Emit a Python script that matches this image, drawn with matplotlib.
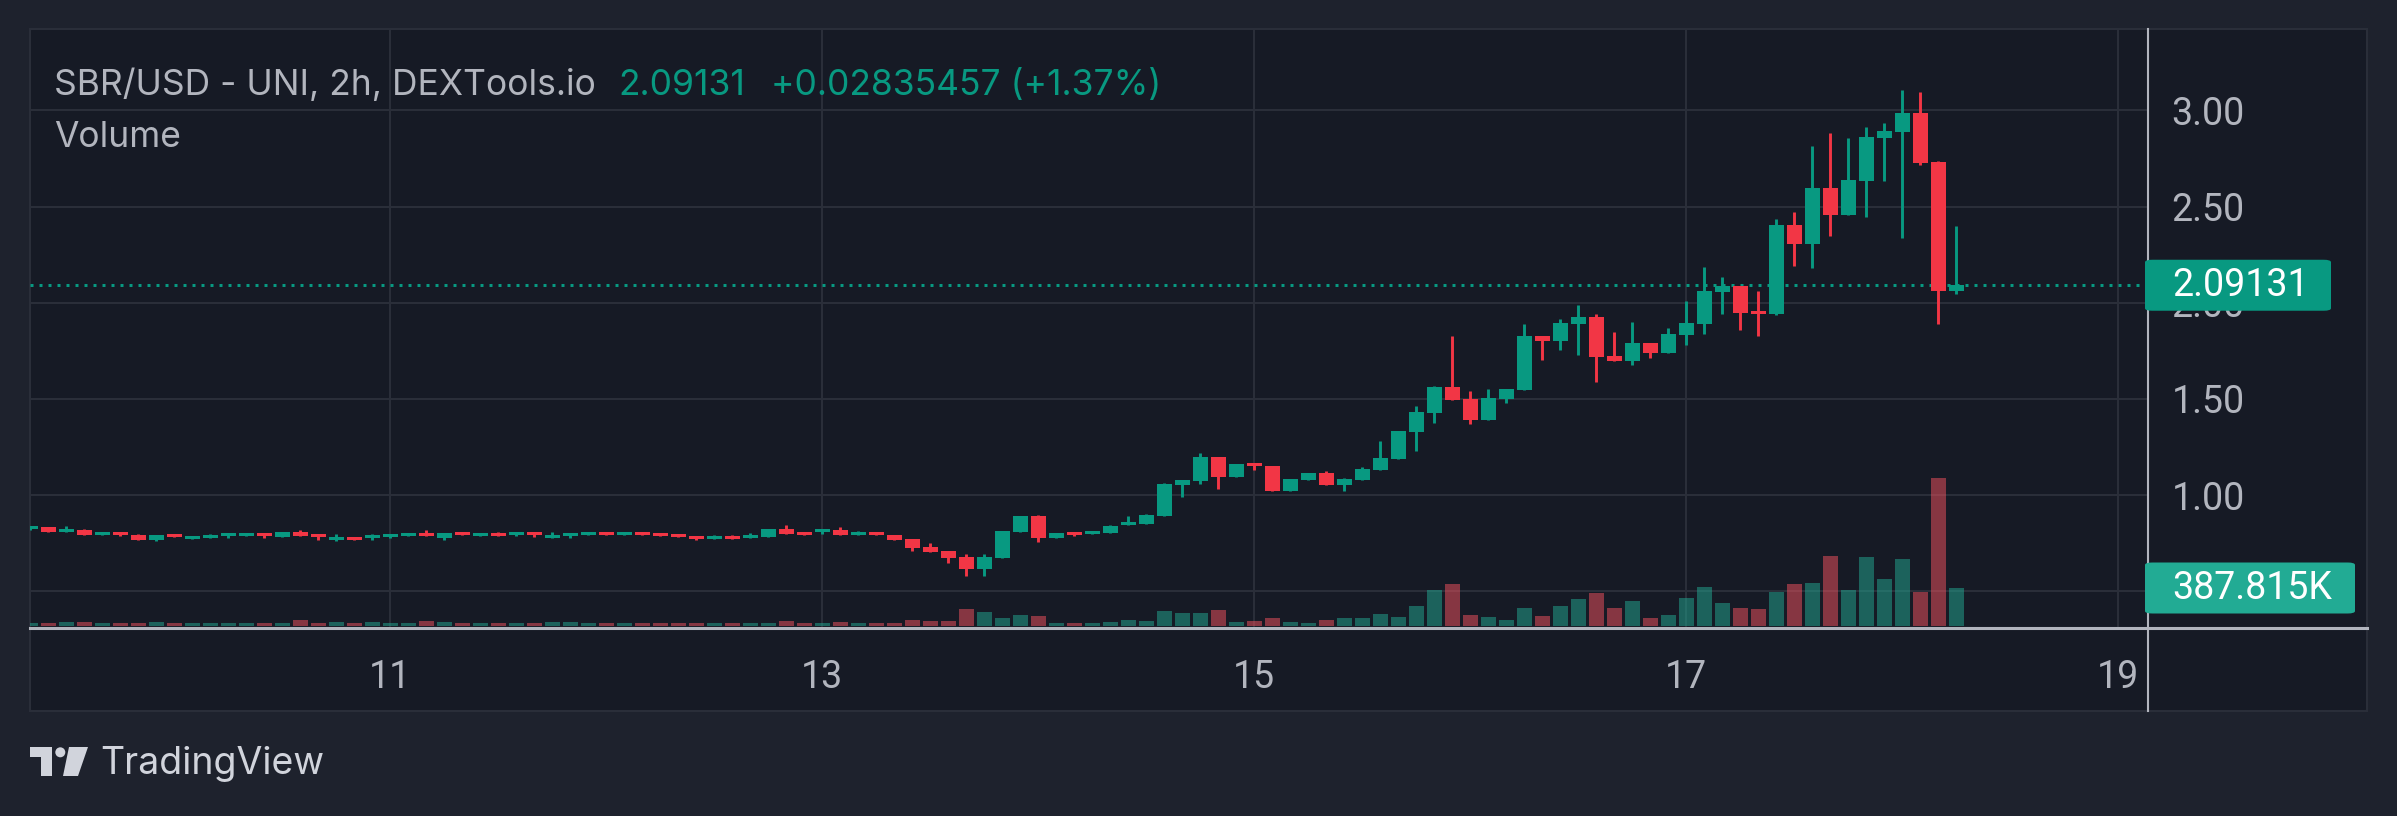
import matplotlib
matplotlib.use("Agg")
import matplotlib.pyplot as plt
from matplotlib.patches import Rectangle, FancyBboxPatch, Polygon, Circle
from matplotlib.lines import Line2D
import pandas as pd

# canvas size in pixels (dpi 100)
W, H = 2397, 816

BG = "#1e222d"
PANEL = "#161a25"
GRID = "#2a2e39"
TEXT = "#b2b5be"
UP = "#089981"
DOWN = "#f23645"
VOL_UP = "#22ab94"
VOL_DOWN = "#f7525f"

# 2h candles, SBR/USD
times = pd.date_range("2025-01-09 08:00", periods=108, freq="2h")

opens = [
    0.8237, 0.8341, 0.8081, 0.8185, 0.7925, 0.8081, 0.7925, 0.7665, 0.7977, 0.7717,
    0.7769, 0.7873, 0.7873, 0.8029, 0.7821, 0.8081, 0.7977, 0.7665, 0.7821, 0.7769,
    0.7821, 0.7873, 0.8029, 0.7769, 0.8081, 0.7873, 0.8029, 0.7925, 0.8081, 0.7769,
    0.7873, 0.7925, 0.8081, 0.7925, 0.8081, 0.8029, 0.7977, 0.7873, 0.7717, 0.7873,
    0.7769, 0.7821, 0.8237, 0.8081, 0.8081, 0.8185, 0.7925, 0.8081, 0.7925, 0.7717,
    0.7301, 0.7093, 0.6781, 0.6157, 0.6729, 0.8081, 0.8913, 0.7769, 0.8081, 0.7977,
    0.8029, 0.8445, 0.8497, 0.8913, 1.0525, 1.0733, 1.1981, 1.0941, 1.1669, 1.1513,
    1.0213, 1.0785, 1.1149, 1.0525, 1.0785, 1.1305, 1.1877, 1.3281, 1.4269, 1.5621,
    1.4997, 1.3905, 1.4997, 1.5465, 1.8273, 1.8013, 1.8897, 1.9261, 1.7233, 1.6973,
    1.7909, 1.7389, 1.8325, 1.8897, 2.0561, 2.0873, 1.9573, 1.9417, 2.4046, 2.3058,
    2.5970, 2.4566, 2.6334, 2.8570, 2.8882, 2.9870, 2.7322, 2.0630,
]
highs = [
    0.8393, 0.8341, 0.8393, 0.8237, 0.8081, 0.8081, 0.7977, 0.7925, 0.7977, 0.7873,
    0.7977, 0.8029, 0.8029, 0.8029, 0.8081, 0.8185, 0.7977, 0.7977, 0.7821, 0.7977,
    0.7977, 0.8029, 0.8185, 0.8029, 0.8081, 0.8029, 0.8081, 0.8081, 0.8081, 0.8081,
    0.8029, 0.8081, 0.8081, 0.8081, 0.8081, 0.8029, 0.7977, 0.7873, 0.7925, 0.7925,
    0.8029, 0.8237, 0.8445, 0.8081, 0.8237, 0.8341, 0.8133, 0.8081, 0.7925, 0.7717,
    0.7509, 0.7093, 0.6937, 0.6937, 0.8133, 0.8913, 0.8965, 0.8029, 0.8081, 0.8133,
    0.8445, 0.8913, 0.9017, 1.0629, 1.0785, 1.2189, 1.1981, 1.1617, 1.1669, 1.1513,
    1.0837, 1.1149, 1.1253, 1.0889, 1.1461, 1.2813, 1.3333, 1.4633, 1.5673, 1.8273,
    1.5413, 1.5517, 1.5517, 1.8897, 1.8273, 1.9157, 1.9885, 1.9417, 1.8481, 1.8999,
    1.7909, 1.8689, 2.0093, 2.1861, 2.1341, 2.0873, 2.0613, 2.4358, 2.4722, 2.8154,
    2.8830, 2.8570, 2.9142, 2.9350, 3.1066, 3.0962, 2.7374, 2.4000,
]
lows = [
    0.8185, 0.8081, 0.8081, 0.7925, 0.7925, 0.7873, 0.7665, 0.7613, 0.7821, 0.7717,
    0.7769, 0.7769, 0.7873, 0.7769, 0.7821, 0.7873, 0.7665, 0.7613, 0.7665, 0.7665,
    0.7769, 0.7873, 0.7873, 0.7665, 0.7925, 0.7873, 0.7873, 0.7873, 0.7821, 0.7769,
    0.7769, 0.7925, 0.7925, 0.7925, 0.7925, 0.7873, 0.7821, 0.7665, 0.7717, 0.7717,
    0.7769, 0.7821, 0.7977, 0.7925, 0.7977, 0.7925, 0.7925, 0.7925, 0.7665, 0.7093,
    0.7041, 0.6469, 0.5793, 0.5793, 0.6729, 0.8081, 0.7561, 0.7769, 0.7873, 0.7977,
    0.8029, 0.8445, 0.8497, 0.8913, 0.9901, 1.0577, 1.0317, 1.0941, 1.1305, 1.0213,
    1.0213, 1.0785, 1.0525, 1.0213, 1.0785, 1.1305, 1.1877, 1.2293, 1.3749, 1.4945,
    1.3697, 1.3905, 1.4789, 1.5465, 1.7025, 1.7545, 1.7285, 1.5881, 1.6973, 1.6765,
    1.7129, 1.7389, 1.7805, 1.8377, 1.9417, 1.8585, 1.8273, 1.9365, 2.1913, 2.1809,
    2.3474, 2.4566, 2.4462, 2.6334, 2.3370, 2.7166, 1.8897, 2.0457,
]
closes = [
    0.8393, 0.8081, 0.8237, 0.7925, 0.8081, 0.7925, 0.7665, 0.7925, 0.7821, 0.7873,
    0.7925, 0.8029, 0.8029, 0.7873, 0.8081, 0.7873, 0.7821, 0.7821, 0.7665, 0.7925,
    0.7977, 0.8029, 0.7873, 0.8029, 0.7925, 0.8029, 0.7873, 0.8081, 0.7925, 0.7925,
    0.8029, 0.8081, 0.7925, 0.8081, 0.7925, 0.7873, 0.7821, 0.7717, 0.7873, 0.7717,
    0.7925, 0.8237, 0.7977, 0.7925, 0.8237, 0.7925, 0.8081, 0.7925, 0.7665, 0.7249,
    0.7041, 0.6729, 0.6157, 0.6781, 0.8133, 0.8913, 0.7769, 0.8029, 0.7925, 0.8133,
    0.8393, 0.8601, 0.8965, 1.0577, 1.0785, 1.1981, 1.0941, 1.1617, 1.1513, 1.0213,
    1.0837, 1.1149, 1.0525, 1.0837, 1.1357, 1.1929, 1.3333, 1.4321, 1.5621, 1.4945,
    1.3905, 1.5049, 1.5517, 1.8273, 1.8013, 1.8949, 1.9261, 1.7181, 1.6973, 1.7909,
    1.7389, 1.8377, 1.8949, 2.0613, 2.0873, 1.9469, 1.9417, 2.4046, 2.3058, 2.5970,
    2.4566, 2.6386, 2.8622, 2.8934, 2.9870, 2.7270, 2.0630, 2.09131,
]
# volume in thousands
volumes = [
    31, 31, 41, 41, 31, 31, 31, 41, 31, 31, 31, 31, 31, 31, 31, 61, 31, 41, 31, 41,
    31, 31, 51, 41, 31, 31, 31, 31, 31, 41, 41, 31, 31, 31, 31, 31, 31, 31, 31, 31,
    31, 31, 51, 31,
    31, 41, 31, 31, 31, 61, 51, 51, 173, 143, 82, 112, 102, 31, 31, 31, 41, 61, 51,
    153, 133, 133, 163,
    41, 51, 82, 41, 31, 61, 82, 82, 122, 92, 204, 367, 429, 112, 92, 61, 184, 102,
    204, 276, 337, 184,
    255, 82, 112, 286, 398, 235, 184, 173, 347, 429, 439, 714, 367, 704, 480, 684,
    347, 1510, 387.815,
]

day_ticks = [11, 13, 15, 17, 19]
price_ticks = [0.5, 1.0, 1.5, 2.0, 2.5, 3.0]
# the 0.50 label sits under the volume tag, so it is left blank
price_labels = ["", "1.00", "1.50", "2.00", "2.50", "3.00"]
title_pair = "SBR/USD - UNI, 2h, DEXTools.io"
change_text = "+0.02835457 (+1.37%)"


def fx(px):
    return px / W


def fy(py):
    # py measured from the top of the picture
    return 1 - py / H


plt.rcParams['font.family'] = ['Roboto', 'DejaVu Sans']
LEGEND_FONT = ['Inter', 'DejaVu Sans']
LEGEND_SIZE = 25.5

fig = plt.figure(figsize=(W / 100, H / 100), dpi=100, facecolor=BG)

# chart panel
fig.add_artist(Rectangle((fx(30), fy(711)), fx(2367) - fx(30), fy(29) - fy(711),
                         transform=fig.transFigure, facecolor=PANEL,
                         edgecolor=GRID, lw=1.5, zorder=-5))

ax = fig.add_axes([fx(30), fy(628), fx(2148) - fx(30), fy(29) - fy(628)])
ax.set_facecolor("none")

x = [t.day + t.hour / 24 for t in times]
body_w = 15 / 216
up = [c >= o for o, c in zip(opens, closes)]
cols = [UP if u else DOWN for u in up]

ax.vlines(x, lows, highs, colors=cols, lw=2.1, zorder=2)
bottoms = [min(o, c) for o, c in zip(opens, closes)]
heights = [max(abs(c - o), 0.004) for o, c in zip(opens, closes)]
ax.bar(x, heights, bottom=bottoms, width=body_w, color=cols, zorder=3, lw=0)

ax.axhline(closes[-1], color=UP, lw=2.16, ls=(0, (1, 2)), zorder=1)

ax.set_xlim(9.3319, 19.1375)
ax.set_ylim(0.3089, 3.4238)
ax.set_xticks(day_ticks)
ax.set_xticklabels([str(d) for d in day_ticks])
ax.set_yticks(price_ticks)
ax.set_yticklabels(price_labels)
ax.grid(True, color=GRID, lw=1.5)
ax.set_axisbelow(True)
for s in ax.spines.values():
    s.set_visible(False)

# volume pane on a twin axis
ax2 = ax.twinx()
vcols = [VOL_UP if u else VOL_DOWN for u in up]
ax2.bar(x, volumes, width=body_w, color=vcols, alpha=0.5, lw=0)
ax2.set_ylim(-20.4, 6093)
ax2.set_axis_off()

ax.yaxis.tick_right()
ax.tick_params(axis='both', length=0, colors=TEXT, labelsize=27)
ax.tick_params(axis='y', pad=17)
ax.tick_params(axis='x', pad=22)

# axis lines
fig.add_artist(Line2D([fx(30), fx(2367)], [fy(628), fy(628)], transform=fig.transFigure,
                      color=TEXT, lw=2.2, zorder=2))
fig.add_artist(Line2D([fx(2148), fx(2148)], [fy(29), fy(711)], transform=fig.transFigure,
                      color=TEXT, lw=1.5, zorder=2))

# last price / last volume tags
inv = fig.transFigure.inverted()
yp = inv.transform(ax.transData.transform((x[-1], closes[-1])))[1]
yv = inv.transform(ax2.transData.transform((x[-1], volumes[-1])))[1]
th = 51 / H
fig.add_artist(FancyBboxPatch((fx(2145), yp - th / 2), fx(2331) - fx(2145), th,
                              boxstyle="round,pad=0,rounding_size=0.003",
                              transform=fig.transFigure, facecolor=UP, lw=0, zorder=3))
fig.text(fx(2172), yp, f"{closes[-1]:.5f}", color="white", fontsize=27,
         va="center", ha="left", zorder=4)
fig.add_artist(FancyBboxPatch((fx(2145), yv - th / 2), fx(2355) - fx(2145), th,
                              boxstyle="round,pad=0,rounding_size=0.003",
                              transform=fig.transFigure, facecolor=VOL_UP, lw=0, zorder=3))
fig.text(fx(2172), yv, f"{volumes[-1]:.3f}K", color="white", fontsize=27,
         va="center", ha="left", zorder=4)

# legend texts
fig.text(fx(54), fy(95), title_pair, color=TEXT, fontsize=LEGEND_SIZE, va="baseline",
         family=LEGEND_FONT)
fig.text(fx(618), fy(95), f"{closes[-1]:.5f}", color=UP, fontsize=LEGEND_SIZE,
         va="baseline", family=LEGEND_FONT)
fig.text(fx(771), fy(95), change_text, color=UP, fontsize=LEGEND_SIZE, va="baseline",
         family=LEGEND_FONT)
fig.text(fx(54), fy(147), "Volume", color=TEXT, fontsize=LEGEND_SIZE, va="baseline",
         family=LEGEND_FONT)

# TradingView mark
LOGO = "#d1d4dc"
fig.add_artist(Polygon([(fx(30), fy(747)), (fx(52), fy(747)), (fx(52), fy(776)),
                        (fx(41), fy(776)), (fx(41), fy(757)), (fx(30), fy(757))],
                       closed=True, transform=fig.transFigure, facecolor=LOGO, lw=0))
fig.add_artist(Polygon([(fx(69), fy(747)), (fx(88), fy(747)), (fx(78), fy(776)),
                        (fx(63), fy(776))],
                       closed=True, transform=fig.transFigure, facecolor=LOGO, lw=0))
fig.add_artist(Circle((60.3, H - 752.3), 5, transform=None, facecolor=LOGO, lw=0))
fig.text(fx(100), fy(774), "TradingView", color=LOGO, fontsize=27,
         family=['Inter', 'DejaVu Sans'], va="baseline")

fig.savefig("out.png", dpi=100, facecolor=BG)
